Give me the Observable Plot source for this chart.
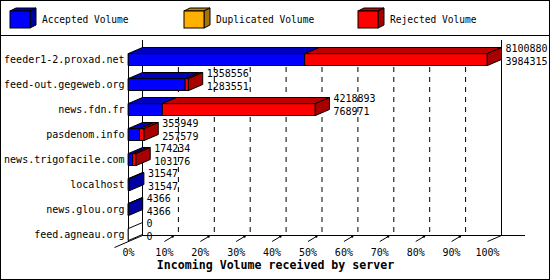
<!DOCTYPE html>
<html><head><meta charset="utf-8">
<script src="https://cdn.jsdelivr.net/npm/d3@7"></script>
<script src="https://cdn.jsdelivr.net/npm/@observablehq/plot@0.6"></script>
<style>
html,body{margin:0;padding:0;background:#fff}
#wrap{position:relative;width:550px;height:280px;box-sizing:border-box;border:1px solid #000;font-family:"DejaVu Sans Mono",monospace;background:#fff;overflow:hidden}
#legend{height:34px;border-bottom:1px solid #000}
#legend svg, #chart svg{display:block}
</style>
</head><body>
<div id="wrap"><div id="legend"></div><div id="chart"></div></div>
<script>
// ---- data ----
const servers = ["feeder1-2.proxad.net","feed-out.gegeweb.org","news.fdn.fr","pasdenom.info","news.trigofacile.com","localhost","news.glou.org","feed.agneau.org"];
const incoming = [8100880,1358556,4218893,355949,174234,31547,4366,0];
const accepted = [3984315,1283551,768971,257579,103176,31547,4366,0];
const seriesNames = ["Accepted Volume","Duplicated Volume","Rejected Volume"];
const seriesFront = ["#0000ff","#ffb000","#ff0000"];
const seriesTop = ["#0000c0","#c08400","#c00000"];
const seriesSide = ["#0000a0","#a87400","#a80000"];
const tickValues = [0,10,20,30,40,50,60,70,80,90,100];
const tickLabels = ["0%","10%","20%","30%","40%","50%","60%","70%","80%","90%","100%"];
const axisTitle = "Incoming Volume received by server";

// ---- legend ----
const lg = d3.select("#legend").append("svg").attr("width",548).attr("height",34);
seriesNames.forEach((name,k)=>{
  const g = lg.append("g").attr("transform",`translate(${9+174*k},0)`);
  const w=20,h=17,x0=0,y0=10,dx=6,dy=3;
  g.append("polygon").attr("points",`${x0},${y0} ${x0+dx},${y0-dy} ${x0+w+dx},${y0-dy} ${x0+w},${y0}`).attr("fill",seriesTop[k]).attr("stroke","#000");
  g.append("polygon").attr("points",`${x0+w},${y0} ${x0+w+dx},${y0-dy} ${x0+w+dx},${y0+h-dy} ${x0+w},${y0+h}`).attr("fill",seriesSide[k]).attr("stroke","#000");
  g.append("rect").attr("x",x0).attr("y",y0).attr("width",w).attr("height",h).attr("fill",seriesFront[k]).attr("stroke","#000");
  g.append("text").attr("x",32).attr("y",19).attr("dy","0.35em").attr("font-size","9.6px").attr("font-family","DejaVu Sans Mono").text(name);
});

// ---- geometry (style constants) ----
const maxV = d3.max(incoming);
const pct = v => v / maxV * 100;
const DX = 3.9, DY = 0.24, H = 0.24;
const floorFront = 7.78, floorBack = floorFront - DY;

const polys = {blueFront:[], blueTop:[], redFront:[], redTop:[], sideBlue:[], sideRed:[], sideWhite:[]};
function add(key,id,pts){ pts.forEach(p=>polys[key].push({id, x:p[0], y:p[1]})); }
servers.forEach((s,i)=>{
  const c = i + 0.5, a = pct(accepted[i]), b = pct(incoming[i]);
  const yt = c - H, yb = c + H;
  if (a > 0) {
    add("blueFront", s, [[0,yt],[a,yt],[a,yb],[0,yb]]);
    add("blueTop", s, [[0,yt],[DX,yt-DY],[a+DX,yt-DY],[a,yt]]);
  }
  if (b > a) {
    add("redFront", s, [[a,yt],[b,yt],[b,yb],[a,yb]]);
    add("redTop", s, [[a,yt],[a+DX,yt-DY],[b+DX,yt-DY],[b,yt]]);
  }
  const key = b > a ? "sideRed" : (b > 0 ? "sideBlue" : "sideWhite");
  add(key, s, [[b,yt],[b+DX,yt-DY],[b+DX,yb-DY],[b,yb]]);
});
const poly = (key, fill) => Plot.line(polys[key], {x:"x", y:"y", z:"id", fill, stroke:"#000", strokeWidth:1, curve:"linear-closed"});

const rows = servers.map((s,i)=>({s, i, inc:incoming[i], acc:accepted[i], p:pct(incoming[i])}));
const gridTicks = tickValues.filter(t=>t>0 && t<100);
const tickRows = tickValues.map((t,k)=>({t, label:tickLabels[k]}));

const chart = Plot.plot({
  width: 548, height: 243,
  marginLeft:0, marginRight:0, marginTop:0, marginBottom:0,
  x: {domain:[0,100], range:[127,486], axis:null},
  y: {domain:[0,8], range:[10.5,210.5], axis:null},
  style: {fontFamily:"DejaVu Sans Mono", fontSize:"10px", background:"#fff", color:"#000"},
  marks: [
    // dashed grid on back wall
    Plot.ruleX(gridTicks, {x: d=>d+DX, y1: 0.5-H-DY, y2: floorBack, stroke:"#000", strokeDasharray:"5,5"}),
    // walls and floor
    Plot.ruleX([0], {x: DX, y1: -0.26, y2: floorBack, stroke:"#000"}),
    Plot.ruleX([100], {x: 100+DX, y1: -0.26, y2: floorBack, stroke:"#000"}),
    Plot.ruleX([0], {x: 0, y1: 0.5-H, y2: floorFront, stroke:"#000"}),
    Plot.ruleY([floorBack], {x1: DX, x2: 110.6, stroke:"#000"}),
    Plot.link([0], {x1: -DX, y1: floorFront+DY, x2: DX, y2: floorBack, stroke:"#000"}),
    Plot.link([100], {x1: d=>d, y1: floorFront, x2: d=>d+DX, y2: floorBack, stroke:"#000"}),
    // ticks
    Plot.link(gridTicks, {x1: d=>d, y1: floorFront, x2: d=>d+2.1, y2: floorBack+0.06, stroke:"#000"}),
    Plot.dot(gridTicks, {x: d=>d+2.3, y: floorBack+0.04, r:1.2, fill:"#000", stroke:"none"}),
    // bars
    poly("blueFront", seriesFront[0]),
    poly("blueTop", seriesTop[0]),
    poly("redFront", seriesFront[2]),
    poly("redTop", seriesTop[2]),
    poly("sideBlue", seriesSide[0]),
    poly("sideRed", seriesSide[2]),
    poly("sideWhite", "#fff"),
    // value labels
    Plot.text(rows, {x: d=>d.p+DX, y: d=>d.i+0.5, text: d=>String(d.inc), dx:4, dy:-11, textAnchor:"start", fill:"#000"}),
    Plot.text(rows, {x: d=>d.p+DX, y: d=>d.i+0.5, text: d=>String(d.acc), dx:4, dy:2, textAnchor:"start", fill:"#000"}),
    // category labels
    Plot.text(rows, {x: 0, y: d=>d.i+0.5, text: "s", dx:-4, textAnchor:"end", fill:"#000"}),
    // tick labels
    Plot.text(tickRows, {x:"t", y: floorFront, text:"label", dy:11, fill:"#000"}),
    // axis title
    Plot.text([axisTitle], {frameAnchor:"bottom", dy:-11, text: d=>d, fontWeight:"bold", fontSize:11.6, fill:"#000"})
  ]
});
document.getElementById("chart").appendChild(chart);
</script>
</body></html>
